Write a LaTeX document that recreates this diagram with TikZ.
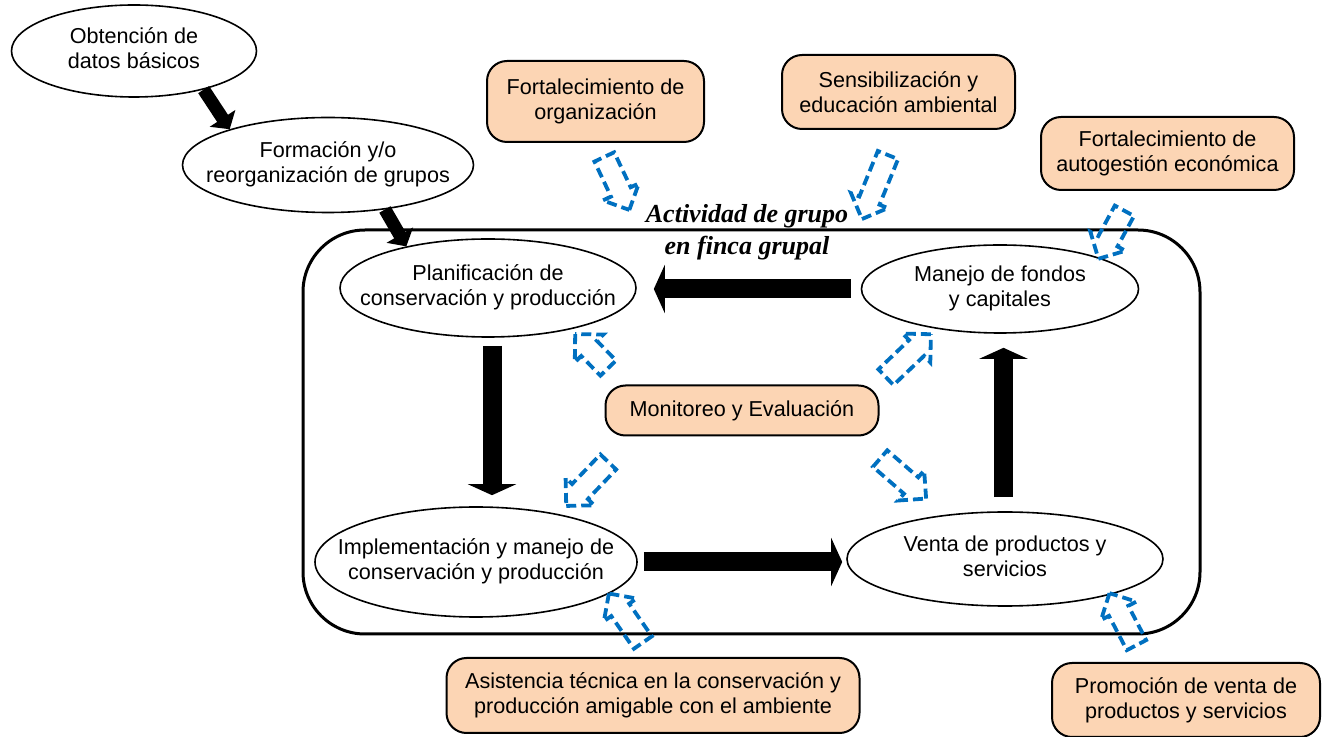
\documentclass[tikz,border=0pt]{standalone}
\usepackage{fontspec}
\setmainfont{Liberation Sans}
\newfontfamily\serifbi{Liberation Serif}
\usepackage{tikz}
\usetikzlibrary{arrows.meta,calc,shapes.geometric,shapes.arrows}
\definecolor{boxfill}{RGB}{252,213,180}
\definecolor{dashblue}{RGB}{0,112,192}
\newcommand{\mk}[1]{\makebox[0pt]{\begin{tabular}{@{}c@{}}#1\end{tabular}}}
\newcommand{\bluearrow}[3]{\path let \p1=($(#3)-(#2)$) in node[hollow, rotate={atan2(\y1,\x1)}, minimum height={veclen(\x1,\y1)}] (#1) at ($(#2)!.5!(#3)$) {};}
\begin{document}
\begin{tikzpicture}[x=0.5pt, y=-0.5pt,
  every node/.style={font=\fontsize{10.8}{12.5}\selectfont, align=center, inner sep=0pt},
  oval/.style={draw, ellipse, line width=0.8pt},
  tbox/.style={draw, fill=boxfill, rounded corners=10pt, line width=1pt},
  fat/.style={line width=9.5pt, -{Triangle[length=5.5pt, width=24pt]}},
  slim/.style={line width=6.5pt, -{Triangle[length=6.5pt, width=15pt]}},
  hollow/.style={draw=dashblue, single arrow, inner xsep=0pt, inner ysep=4.5pt, single arrow head extend=4.5pt, single arrow tip angle=90, line width=1.9pt, dash pattern=on 5pt off 2.5pt}]
\useasboundingbox (0,0) rectangle (1324,737);
\node[draw, line width=1.5pt, rounded corners=31pt, minimum width=448.5pt, minimum height=202pt] (finca) at (751.5,432) {};
\node[font=\serifbi\bfseries\itshape\fontsize{13}{16}\selectfont] (titulo) at (747,232) {Actividad de grupo\\en finca grupal};
\node[oval, minimum width=122.5pt, minimum height=46pt] (datos) at (134,51) {\mk{Obtención de\\datos básicos}};
\node[oval, minimum width=145.5pt, minimum height=47.5pt] (grupos) at (328,165) {\mk{Formación y/o\\reorganización de grupos}};
\node[oval, minimum width=148pt, minimum height=49pt] (plan) at (488,288) {\mk{Planificación de\\conservación y producción}};
\node[oval, minimum width=138.5pt, minimum height=44pt] (manejo) at (1000,289) {\mk{Manejo de fondos\\y capitales}};
\node[oval, minimum width=161pt, minimum height=55pt] (impl) at (476,562) {\mk{Implementación y manejo de\\conservación y producción}};
\node[oval, minimum width=158pt, minimum height=47pt] (venta) at (1005,559) {\mk{Venta de productos y\\servicios}};
\node[tbox, minimum width=108.5pt, minimum height=40.5pt] (forg) at (595.5,101.5) {Fortalecimiento de\\organización};
\node[tbox, minimum width=116.5pt, minimum height=37pt] (sens) at (898.5,92) {Sensibilización y\\educación ambiental};
\node[tbox, minimum width=126.5pt, minimum height=36.5pt] (autog) at (1167.5,153.5) {Fortalecimiento de\\autogestión económica};
\node[tbox, minimum width=136.5pt, minimum height=25pt] (monit) at (742,410.5) {Monitoreo y Evaluación};
\node[tbox, minimum width=206.5pt, minimum height=37.5pt] (asist) at (653,695.5) {Asistencia técnica en la conservación y\\producción amigable con el ambiente};
\node[tbox, minimum width=134pt, minimum height=37pt] (promo) at (1186,700) {Promoción de venta de\\productos y servicios};
\draw[slim] (datos.-29) -- (grupos.160);
\draw[slim] (grupos.-38) -- (plan.153);
\draw[fat, shorten <=4pt, shorten >=5.5pt] ([xshift=2pt]plan.south) -- ([xshift=2pt]plan.south |- impl.north);
\draw[fat, shorten <=3pt, shorten >=2pt] (impl.east) -- (impl.east -| venta.west);
\draw[fat, shorten <=7pt, shorten >=7pt] ([xshift=-0.75pt]venta.north) -- ([xshift=-0.75pt]venta.north |- manejo.south);
\draw[fat, shorten <=5pt, shorten >=8.5pt] (manejo.west) -- (manejo.west -| plan.east);
\bluearrow{a-forg}{602,152}{627,205}
\bluearrow{a-sens}{890,150}{864,214}
\bluearrow{a-autog}{1127,206}{1101,254}
\bluearrow{a-plan}{612,372}{579,338}
\bluearrow{a-manejo}{882,381}{927,338}
\bluearrow{a-impl}{612,458}{570,502}
\bluearrow{a-venta}{876,455}{922,495}
\bluearrow{a-asist}{646,647}{612,598}
\bluearrow{a-promo}{1139,650}{1112,598}
\end{tikzpicture}
\end{document}
